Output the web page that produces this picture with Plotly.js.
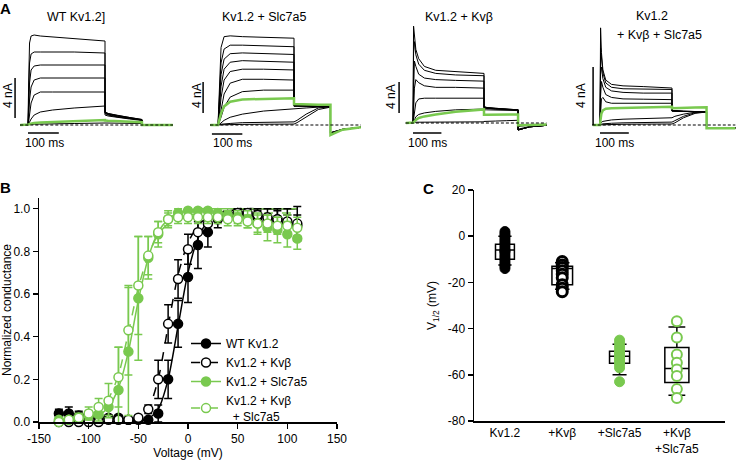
<!DOCTYPE html>
<html><head><meta charset="utf-8">
<script src="https://cdn.plot.ly/plotly-3.0.1.min.js"></script>
<style>html,body{margin:0;padding:0;background:#fff}#chart{width:738px;height:460px}</style>
</head><body><div id="chart"></div>
<script>
// ---------------- DATA ----------------
// Panel A: sampled current traces (time in ms, current in nA)
const tA = [-25, 0, 2, 5, 10, 20, 40, 80, 150, 250, 250, 260, 290, 330, 370, 370, 380, 410, 470];

const wtSweeps = [
  [0,0,4.0,8.2,8.9,9.0,8.9,8.8,8.6,8.4, 1.3,1.15,0.95,0.75,0.55, 0,0,0,0],
  [0,0,2.5,6.2,7.1,7.3,7.3,7.3,7.3,7.2, 1.3,1.15,0.95,0.75,0.55, 0,0,0,0],
  [0,0,1.5,4.2,5.5,5.9,6.0,6.0,6.0,6.0, 1.25,1.1,0.9,0.7,0.5, 0,0,0,0],
  [0,0,0.8,2.5,3.8,4.5,4.7,4.7,4.7,4.7, 1.2,1.05,0.85,0.7,0.5, 0,0,0,0],
  [0,0,0.3,1.2,2.2,3.0,3.3,3.3,3.3,3.3, 1.15,1.0,0.8,0.65,0.5, 0,0,0,0],
  [0,0,0.1,0.3,0.6,1.0,1.3,1.5,1.7,1.9, 1.0,0.9,0.75,0.6,0.45, 0,0,0,0],
  [0,0,0,0.02,0.05,0.08,0.1,0.12,0.15,0.2, 0.2,0.2,0.2,0.18,0.15, 0,0,0,0]
];
const wtGreen = [0,0,0.05,0.1,0.15,0.2,0.25,0.3,0.4,0.5, 0.45,0.42,0.38,0.33,0.28, 0,0,0,0];

const slSweeps = [
  [0,0,2.0,6.0,10.0,11.4,11.5,11.4,11.3,11.2, 2.6,2.6,2.5,2.45,2.4, -1.1,-1.0,-0.6,-0.3],
  [0,0,1.5,4.5,8.0,9.8,10.3,10.3,10.2,10.1, 2.6,2.6,2.5,2.45,2.4, -1.1,-1.0,-0.6,-0.3],
  [0,0,1.0,3.5,6.5,8.5,9.2,9.3,9.2,9.1, 2.6,2.55,2.5,2.45,2.4, -1.1,-1.0,-0.6,-0.3],
  [0,0,0.7,2.5,5.0,7.2,8.1,8.3,8.2,8.1, 2.55,2.55,2.5,2.45,2.4, -1.1,-1.0,-0.6,-0.3],
  [0,0,0.4,1.5,3.5,5.8,6.9,7.2,7.2,7.1, 2.5,2.5,2.45,2.4,2.4, -1.1,-1.0,-0.6,-0.3],
  [0,0,0.2,0.8,2.0,4.0,5.4,5.9,5.9,5.8, 2.5,2.5,2.45,2.4,2.4, -1.1,-1.0,-0.6,-0.3],
  [0,0,0.1,0.4,1.0,2.3,3.6,4.3,4.5,4.5, 2.4,2.4,2.4,2.4,2.4, -1.1,-1.0,-0.6,-0.3],
  [0,0,0.05,0.1,0.3,0.6,1.0,1.4,1.8,2.15, 2.1,2.15,2.2,2.3,2.35, -1.0,-0.9,-0.55,-0.3],
  [0,0,0,0.05,0.1,0.15,0.2,0.3,0.35,0.4, 0.4,0.6,1.4,2.2,2.35, -1.0,-0.9,-0.55,-0.3],
  [0,0,0,0.02,0.03,0.05,0.07,0.08,0.1,0.12, 0.12,0.3,1.0,2.0,2.3, -1.0,-0.9,-0.55,-0.3]
];
const slGreen = [0,0,0.3,0.8,1.5,2.4,3.0,3.3,3.4,3.45, 2.7,2.68,2.65,2.62,2.6, -1.3,-1.1,-0.6,-0.3];

const kbSweeps = [
  [0,0,12.5,11.0,9.5,8.3,7.3,6.8,6.6,6.4, 2.1,2.0,1.9,1.8,1.7, -0.9,-0.8,-0.5,-0.3],
  [0,0,9.0,10.5,8.8,7.6,6.8,6.4,6.2,6.1, 2.1,2.0,1.9,1.8,1.7, -0.9,-0.8,-0.5,-0.3],
  [0,0,4.0,8.0,7.3,6.3,5.8,5.6,5.5,5.4, 2.0,1.95,1.85,1.75,1.7, -0.9,-0.8,-0.5,-0.3],
  [0,0,1.5,4.5,5.6,5.2,4.8,4.6,4.6,4.5, 1.95,1.9,1.8,1.75,1.7, -0.9,-0.8,-0.5,-0.3],
  [0,0,0.5,1.5,2.6,3.1,3.2,3.2,3.2,3.2, 1.9,1.85,1.8,1.75,1.7, -0.9,-0.8,-0.5,-0.3],
  [0,0,0.1,0.4,0.8,1.1,1.3,1.5,1.7,1.8, 1.7,1.7,1.65,1.6,1.6, -0.8,-0.7,-0.45,-0.3],
  [0,0,0,0.05,0.1,0.1,0.12,0.15,0.15,0.15, 0.2,0.2,0.25,0.3,0.35, -0.5,-0.4,-0.3,-0.2]
];
const kbGreen = [0,0,0.05,0.2,0.4,0.65,0.85,1.1,1.45,1.75, 1.05,1.05,1.05,1.1,1.1, -0.3,-0.3,-0.25,-0.2];

const ksSweeps = [
  [0,0,6.7,5.0,3.8,3.1,2.8,2.7,2.65,2.55, 1.0,0.98,0.95,0.93,0.92, -0.2,-0.2,-0.2,-0.2],
  [0,0,5.3,4.6,3.6,2.9,2.6,2.5,2.47,2.45, 1.0,0.98,0.95,0.93,0.92, -0.2,-0.2,-0.2,-0.2],
  [0,0,3.5,4.0,3.2,2.6,2.35,2.25,2.2,2.2, 0.98,0.96,0.94,0.93,0.92, -0.2,-0.2,-0.2,-0.2],
  [0,0,2.0,3.0,2.6,2.1,1.9,1.8,1.78,1.75, 0.97,0.95,0.93,0.92,0.92, -0.2,-0.2,-0.2,-0.2],
  [0,0,0.8,1.8,1.9,1.6,1.5,1.5,1.5,1.5, 0.95,0.94,0.93,0.92,0.92, -0.2,-0.2,-0.2,-0.2],
  [0,0,0.1,0.2,0.25,0.3,0.35,0.4,0.45,0.5, 0.5,0.6,0.75,0.88,0.9, -0.2,-0.2,-0.2,-0.2],
  [0,0,0,0.05,0.08,0.1,0.12,0.15,0.18,0.2, 0.2,0.3,0.6,0.85,0.9, -0.2,-0.2,-0.2,-0.2],
  [0,0,0,0,0.02,0.03,0.04,0.05,0.06,0.07, 0.07,0.15,0.5,0.8,0.9, -0.2,-0.2,-0.2,-0.2]
];
const ksGreen = [0,0,0.4,0.8,1.0,1.12,1.15,1.18,1.22,1.26, 1.15,1.15,1.17,1.2,1.22, -0.23,-0.23,-0.22,-0.22];

const titlesA = ['WT Kv1.2]', 'Kv1.2 + Slc7a5', 'Kv1.2 + Kvβ', 'Kv1.2', '+ Kvβ + Slc7a5'];

// Panel B: normalized conductance vs voltage
const voltB = [-130,-120,-110,-100,-90,-80,-70,-60,-50,-40,-30,-20,-10,0,10,20,30,40,50,60,70,80,90,100,110];
const gWT  = [0.04,0.04,0.03,0.02,0.02,0.02,0.02,0.01,0.01,0.01,0.04,0.20,0.46,0.68,0.83,0.89,0.95,0.97,0.98,0.97,0.96,0.94,0.95,0.93,0.92];
const eWT  = [0.02,0.03,0.02,0.01,0.01,0.01,0.01,0.01,0.01,0.01,0.04,0.09,0.11,0.12,0.11,0.07,0.04,0.02,0.02,0.02,0.03,0.03,0.04,0.04,0.05];
const gKB  = [0.00,0.00,0.00,0.00,0.00,0.01,0.01,0.01,0.02,0.06,0.20,0.46,0.67,0.81,0.89,0.93,0.96,0.97,0.98,0.98,0.97,0.96,0.95,0.94,0.93];
const eKB  = [0.01,0.01,0.01,0.01,0.01,0.01,0.01,0.01,0.01,0.02,0.09,0.09,0.09,0.07,0.05,0.03,0.02,0.02,0.02,0.02,0.03,0.04,0.05,0.06,0.08];
const gSL  = [0.01,0.01,0.02,0.03,0.035,0.07,0.15,0.33,0.58,0.77,0.88,0.95,0.98,0.99,0.99,0.99,0.98,0.97,0.96,0.95,0.93,0.91,0.90,0.88,0.86];
const eSL  = [0.01,0.01,0.02,0.02,0.03,0.04,0.20,0.30,0.29,0.10,0.06,0.04,0.02,0.01,0.01,0.01,0.02,0.02,0.03,0.04,0.05,0.06,0.06,0.06,0.05];
const gKS  = [0.00,0.01,0.02,0.04,0.07,0.10,0.21,0.43,0.64,0.78,0.89,0.95,0.96,0.96,0.96,0.96,0.96,0.95,0.95,0.94,0.93,0.93,0.92,0.92,0.91];
const eKS  = [0.01,0.01,0.02,0.03,0.04,0.08,0.14,0.21,0.23,0.09,0.05,0.03,0.03,0.03,0.03,0.03,0.03,0.03,0.03,0.03,0.04,0.04,0.04,0.05,0.05];
// fitted Boltzmann curves
const fitWT = [0,0,0,0,0,0,0,0,0.005,0.015,0.06,0.20,0.45,0.70,0.86,0.94,0.97,0.99,0.995,1,1,1,1,1,1];
const fitKB = [0,0,0,0,0,0,0,0.005,0.015,0.06,0.20,0.45,0.69,0.84,0.92,0.96,0.98,0.99,1,1,1,1,1,1,1];
const fitSL = [0,0,0.005,0.01,0.03,0.07,0.16,0.33,0.57,0.77,0.89,0.95,0.98,0.99,1,1,1,1,1,1,1,1,1,1,1];
const fitKS = [0,0.005,0.015,0.03,0.06,0.11,0.22,0.42,0.63,0.78,0.88,0.93,0.96,0.97,0.975,0.98,0.98,0.98,0.98,0.98,0.98,0.98,0.98,0.98,0.98];
const namesB = ['WT Kv1.2', 'Kv1.2 + Kvβ', 'Kv1.2 + Slc7a5', 'Kv1.2 + Kvβ<br>\u00a0\u00a0+ Slc7a5'];
const ticksBx = [-150, -100, -50, 0, 50, 100, 150];
const ticksBxText = ['-150', '-100', '-50', '0', '50', '100', '150'];
const ticksBy = [0, 0.2, 0.4, 0.6, 0.8, 1.0];
const ticksByText = ['0.0', '0.2', '0.4', '0.6', '0.8', '1.0'];

// Panel C: V1/2 values (mV)
const catsC = ['Kv1.2', '+Kvβ', '+Slc7a5', '+Kvβ<br>+Slc7a5'];
const vKv = [2,1,0,-1,-2,-3,-4,-5,-6,-6.5,-7,-8,-9,-10,-11,-12,-13,-14];
const vKb = [-11,-12.5,-13.5,-15,-16.5,-18,-21,-22.5,-24];
const vSl = [-45,-46.5,-48,-49.5,-50.5,-51.5,-52.5,-53.5,-54.5,-55.5,-57,-63];
const vKs = [-36.8,-43.9,-51.2,-54.8,-57.7,-60.5,-66.2,-70.0];
const boxQ1  = [-10, -21, -55, -63.3];
const boxMed = [-6, -14, -52, -57.3];
const boxQ3  = [-3.5, -13, -49.8, -48.2];
const boxLo  = [-12.5, -23, -60, -68.8];
const boxHi  = [0, -11.5, -46.8, -39.3];
const ticksCy = [-80, -60, -40, -20, 0, 20];
const ticksCyText = ['-80', '-60', '-40', '-20', '0', '20'];

// ---------------- STYLE / LAYOUT ----------------
const W = 738, H = 460;
const F = '"Liberation Sans", Arial, Helvetica, sans-serif';
const BLACK = '#000000', GREEN = '#79c94f';
const px = p => p / W, py = p => 1 - p / H;

const traces = [], shapes = [], annotations = [];
const layout = {
  width: W, height: H, margin: {l:0, r:0, t:0, b:0},
  paper_bgcolor: '#fff', plot_bgcolor: 'rgba(0,0,0,0)',
  font: {family: F, size: 12, color: BLACK},
  showlegend: true,
  legend: {x: px(186), y: py(329), xanchor: 'left', yanchor: 'top', bgcolor: 'rgba(0,0,0,0)',
           font: {family: F, size: 12, color: BLACK}, tracegroupgap: 0, itemwidth: 30},
  shapes, annotations
};

// panel A geometry: pixel of t=0, px/ms, pixel of baseline, px/nA
const geomA = [
  {t0: 28,  pms: 0.308, base: 125, pna: 10,   xr: [-50, 480], yr: [-1.2, 10.5], vbarT: -42, vbar: [0.7, 4.7],  hbarY: -0.8,  hbar: [0, 100],  lab4: [8, 96],   lab100: [44, 143]},
  {t0: 218, pms: 0.304, base: 125, pna: 7.75, xr: [-55, 480], yr: [-1.6, 12.2], vbarT: -49, vbar: [1.55, 5.55], hbarY: -1.16, hbar: [-20, 80], lab4: [197, 96], lab100: [232, 143]},
  {t0: 413, pms: 0.284, base: 123, pna: 7.75, xr: [-55, 480], yr: [-1.6, 13.0], vbarT: -49, vbar: [1.29, 5.29], hbarY: -1.29, hbar: [0, 100],  lab4: [391, 97], lab100: [427, 143]},
  {t0: 600, pms: 0.288, base: 125, pna: 14.5, xr: [-55, 479], yr: [-1.0, 7.2],  vbarT: -24, vbar: [0, 4],       hbarY: -0.55, hbar: [0, 100],  lab4: [581, 96], lab100: [614, 143]}
];
const sweepsA = [wtSweeps, slSweeps, kbSweeps, ksSweeps];
const greensA = [wtGreen, slGreen, kbGreen, ksGreen];

geomA.forEach((g, i) => {
  const k = i + 1, xa = 'x' + (k === 1 ? '' : k), ya = 'y' + (k === 1 ? '' : k);
  const xd = [px(g.t0 + g.xr[0] * g.pms), Math.min(1, px(g.t0 + g.xr[1] * g.pms))];
  const yd = [py(g.base - g.yr[0] * g.pna), py(g.base - g.yr[1] * g.pna)];
  layout['xaxis' + (k === 1 ? '' : k)] = {domain: xd, range: g.xr, visible: false, anchor: ya, fixedrange: true};
  layout['yaxis' + (k === 1 ? '' : k)] = {domain: yd, range: g.yr, visible: false, anchor: xa, fixedrange: true};
  shapes.push({type: 'line', xref: xa, yref: ya, x0: tA[0], x1: tA[tA.length - 1], y0: 0, y1: 0,
               line: {color: BLACK, width: 1, dash: '3px,2px'}});
  sweepsA[i].forEach(s => traces.push({x: tA, y: s, xaxis: xa, yaxis: ya, mode: 'lines',
    line: {color: BLACK, width: 1}, showlegend: false, hoverinfo: 'skip'}));
  traces.push({x: tA, y: greensA[i], xaxis: xa, yaxis: ya, mode: 'lines',
    line: {color: GREEN, width: 2.5}, showlegend: false, hoverinfo: 'skip'});
  shapes.push({type: 'line', xref: xa, yref: ya, x0: g.vbarT, x1: g.vbarT, y0: g.vbar[0], y1: g.vbar[1], line: {color: BLACK, width: 1.5}});
  shapes.push({type: 'line', xref: xa, yref: ya, x0: g.hbar[0], x1: g.hbar[1], y0: g.hbarY, y1: g.hbarY, line: {color: BLACK, width: 1.5}});
  annotations.push({xref: 'paper', yref: 'paper', x: px(g.lab4[0]), y: py(g.lab4[1]), text: '4 nA', textangle: -90,
    showarrow: false, xanchor: 'center', yanchor: 'middle', font: {size: 12}});
  annotations.push({xref: 'paper', yref: 'paper', x: px(g.lab100[0]), y: py(g.lab100[1]), text: '100 ms',
    showarrow: false, xanchor: 'center', yanchor: 'middle', font: {size: 12}});
});
[[76, 17], [264, 17], [459, 17], [652, 16], [659, 35]].forEach((p, i) => annotations.push({
  xref: 'paper', yref: 'paper', x: px(p[0]), y: py(p[1]), text: titlesA[i], showarrow: false,
  xanchor: 'center', yanchor: 'middle', font: {size: 12.5}}));

[['A', 5, 8], ['B', 5, 187], ['C', 428, 188]].forEach(l => annotations.push({
  xref: 'paper', yref: 'paper', x: px(l[1]), y: py(l[2]), text: '<b>' + l[0] + '</b>', showarrow: false,
  xanchor: 'center', yanchor: 'middle', font: {size: 15}}));

// ---------------- Panel B ----------------
const axB = {showline: true, linecolor: BLACK, linewidth: 1.5, ticks: 'outside', ticklen: 5, tickwidth: 1.5,
             tickcolor: BLACK, showgrid: false, zeroline: false, fixedrange: true, tickfont: {size: 12}};
layout.xaxis5 = Object.assign({}, axB, {domain: [px(39), px(337)], range: [-150, 150], tickvals: ticksBx, ticktext: ticksBxText,
  anchor: 'y5', title: {text: 'Voltage (mV)', font: {size: 12}, standoff: 4}});
layout.yaxis5 = Object.assign({}, axB, {domain: [py(422), py(198)], range: [0, 1.05], tickvals: ticksBy, ticktext: ticksByText,
  anchor: 'x5', title: {text: 'Normalized conductance', font: {size: 12}, standoff: 6}});

const fitsB = [fitWT, fitKB, fitSL, fitKS];
const dataB = [gWT, gKB, gSL, gKS];
const errB = [eWT, eKB, eSL, eKS];
const colB = [BLACK, BLACK, GREEN, GREEN];
const dashB = ['solid', 'dash', 'solid', 'dash'];
const fillB = [BLACK, '#ffffff', GREEN, '#ffffff'];

fitsB.forEach((f, i) => traces.push({x: voltB, y: f, xaxis: 'x5', yaxis: 'y5', mode: 'lines',
  line: {color: colB[i], width: 1.5, dash: dashB[i], shape: 'spline', smoothing: 0.7},
  showlegend: false, hoverinfo: 'skip'}));
dataB.forEach((d, i) => traces.push({x: voltB, y: d, xaxis: 'x5', yaxis: 'y5', mode: 'markers', cliponaxis: false,
  marker: {size: 9, color: fillB[i], line: {color: colB[i], width: 1.5}},
  error_y: {type: 'data', array: errB[i], color: colB[i], thickness: 1.5, width: 4},
  showlegend: false, hoverinfo: 'skip'}));
namesB.forEach((n, i) => traces.push({x: [null], y: [null], xaxis: 'x5', yaxis: 'y5', mode: 'lines+markers', name: n,
  line: {color: colB[i], width: 1.5, dash: dashB[i]},
  marker: {size: 9, color: fillB[i], line: {color: colB[i], width: 1.5}}, hoverinfo: 'skip'}));

// ---------------- Panel C ----------------
layout.xaxis6 = {domain: [px(474), px(725)], range: [-0.54, 3.84], tickvals: [0,1,2,3], ticktext: catsC,
  showline: true, linecolor: BLACK, linewidth: 1.5, ticks: '', showgrid: false, zeroline: false,
  anchor: 'y6', fixedrange: true, tickfont: {size: 12}};
layout.yaxis6 = Object.assign({}, axB, {domain: [py(421), py(190)], range: [-80, 20], tickvals: ticksCy, ticktext: ticksCyText,
  anchor: 'x6', title: {text: 'V<sub>1/2</sub> (mV)', font: {size: 12}, standoff: 8}});

const boxW = [0.33, 0.36, 0.35, 0.42];
boxQ1.forEach((q, i) => traces.push({type: 'box', x: [i], q1: [q], median: [boxMed[i]], q3: [boxQ3[i]],
  lowerfence: [boxLo[i]], upperfence: [boxHi[i]], width: boxW[i], whiskerwidth: 0.7, boxpoints: false,
  xaxis: 'x6', yaxis: 'y6', fillcolor: 'rgba(255,255,255,0)', line: {color: BLACK, width: 1.5},
  showlegend: false, hoverinfo: 'skip'}));
const ptsC = [vKv, vKb, vSl, vKs];
const ptFill = [BLACK, '#ffffff', GREEN, '#ffffff'];
const ptLine = [BLACK, BLACK, GREEN, GREEN];
const ptLW = [1, 3, 1, 2];
ptsC.forEach((v, i) => traces.push({x: v.map(() => i), y: v, xaxis: 'x6', yaxis: 'y6', mode: 'markers', cliponaxis: false,
  marker: {size: 10, color: ptFill[i], line: {color: ptLine[i], width: ptLW[i]}}, showlegend: false, hoverinfo: 'skip'}));

Plotly.newPlot('chart', traces, layout, {staticPlot: true, displayModeBar: false});
</script></body></html>
